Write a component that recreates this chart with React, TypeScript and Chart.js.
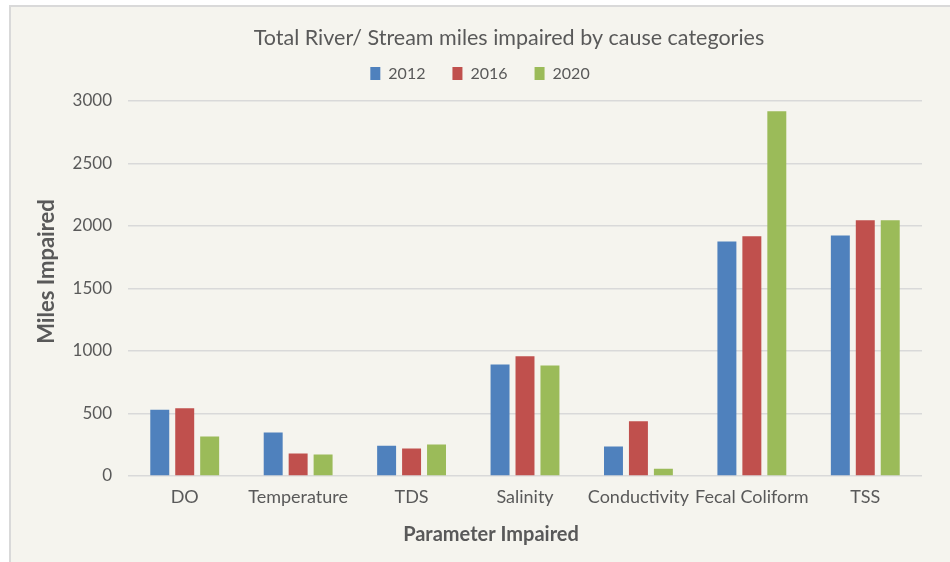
import React, { useEffect, useRef } from "react";
import { Chart, registerables } from "chart.js";

Chart.register(...registerables);

const categories = ["DO", "Temperature", "TDS", "Salinity", "Conductivity", "Fecal Coliform", "TSS"];
const series2012 = [530, 348, 242, 893, 236, 1877, 1925];
const series2016 = [543, 180, 220, 958, 439, 1919, 2047];
const series2020 = [316, 172, 252, 885, 58, 2918, 2047];
const yTicks = [0, 500, 1000, 1500, 2000, 2500, 3000];

const FONT = "Lato, 'Open Sans', sans-serif";
const TEXT = "#595959";

const LEGEND_EXTRA = 9.5;
const TITLE_DX = 29;
const YTITLE_DX = -4;
const YTITLE_DY = -17;
const XTITLE_DX = -34;

const tweaks = {
  id: "tweaks",
  beforeInit(chart: any) {
    const lg = chart.legend;
    if (lg) {
      const fit = lg.fit.bind(lg);
      lg.fit = function () {
        fit();
        this.height += LEGEND_EXTRA;
      };
    }
    const tb = chart.titleBlock;
    if (tb) {
      const draw = tb.draw.bind(tb);
      tb.draw = function (...args: any[]) {
        chart.ctx.save();
        chart.ctx.translate(TITLE_DX, 0);
        draw(...args);
        chart.ctx.restore();
      };
    }
  },
  afterUpdate(chart: any) {
    const patch = (s: any, dx: number, dy: number) => {
      if (!s || s.__patched) return;
      const dt = s.drawTitle.bind(s);
      s.drawTitle = function (...args: any[]) {
        chart.ctx.save();
        chart.ctx.translate(dx, dy);
        dt(...args);
        chart.ctx.restore();
      };
      s.__patched = true;
    };
    patch(chart.scales.y, YTITLE_DX, YTITLE_DY);
    patch(chart.scales.x, XTITLE_DX, 0);
  },
};

export default function App() {
  const ref = useRef<HTMLCanvasElement | null>(null);

  useEffect(() => {
    if (!ref.current) return;
    const chart = new Chart(ref.current, {
      type: "bar",
      data: {
        labels: categories,
        datasets: [
          { label: "2012", data: series2012, backgroundColor: "#4F81BD" },
          { label: "2016", data: series2016, backgroundColor: "#C0504D" },
          { label: "2020", data: series2020, backgroundColor: "#9BBB59" },
        ],
      },
      plugins: [tweaks],
      options: {
        animation: false,
        responsive: false,
        maintainAspectRatio: false,
        datasets: { bar: { categoryPercentage: 0.66, barPercentage: 0.76 } },
        layout: { padding: { top: 25, right: 28, bottom: 6, left: 38 } },
        plugins: {
          tooltip: { enabled: false },
          title: {
            display: true,
            text: "Total River/ Stream miles impaired by cause categories",
            color: TEXT,
            font: { family: FONT, size: 21.5, weight: "normal" },
            padding: { top: 0, bottom: -12.3 },
          },
          legend: {
            display: true,
            labels: {
              color: TEXT,
              font: { family: FONT, size: 16 },
              boxWidth: 10,
              boxHeight: 13,
              padding: 27,
            },
          },
        },
        scales: {
          x: {
            grid: { display: false, drawTicks: false },
            border: { display: false },
            ticks: { color: TEXT, font: { family: FONT, size: 18 }, padding: 10, maxRotation: 0, autoSkip: false },
            title: {
              display: true,
              text: "Parameter Impaired",
              color: TEXT,
              font: { family: FONT, size: 20, weight: "bold" },
              padding: { top: 0, bottom: 9 },
            },
            afterFit: (s: any) => { s.height = 80; },
          },
          y: {
            min: 0,
            max: 3000,
            afterBuildTicks: (s: any) => { s.ticks = yTicks.map((v) => ({ value: v })); },
            grid: { color: "#D9D9D9", lineWidth: 1.5, drawTicks: false },
            border: { display: false },
            ticks: {
              color: TEXT,
              font: { family: FONT, size: 17 },
              padding: 16,
              callback: (v: any) => String(v),
            },
            title: {
              display: true,
              text: "Miles Impaired",
              color: TEXT,
              font: { family: FONT, size: 22, weight: "bold" },
              padding: { top: 0, bottom: 0 },
            },
            afterFit: (s: any) => { s.width = 90; },
          },
        },
      },
    });
    return () => chart.destroy();
  }, []);

  return (
    <div style={{ position: "fixed", left: 0, top: 0, width: 950, height: 562, background: "#ffffff" }}>
      <div
        style={{
          position: "absolute",
          left: 9,
          top: 5,
          width: 945,
          height: 560,
          background: "#F5F4EE",
          border: "2px solid #D9D9D9",
          boxSizing: "border-box",
        }}
      />
      <canvas ref={ref} width={950} height={562} style={{ position: "absolute", left: 0, top: 0 }} />
    </div>
  );
}
